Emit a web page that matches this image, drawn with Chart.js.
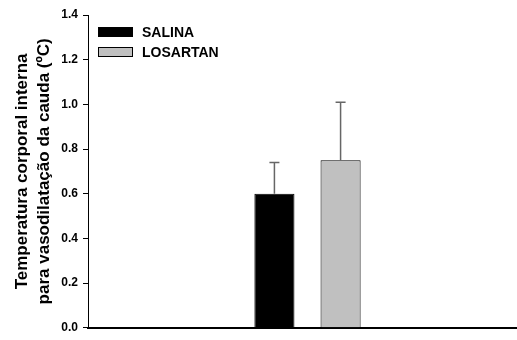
<!DOCTYPE html>
<html>
<head>
  <title>Temperatura corporal interna</title>
  <script src="https://cdn.jsdelivr.net/npm/chart.js"></script>
  <style>
    html, body { margin: 0; padding: 0; background: #fff; overflow: hidden; }
    #wrap { position: relative; width: 527px; height: 340px; }
    #legend {
      position: absolute; left: 98px; top: 22px;
      font: bold 14px "Liberation Sans", Arial, sans-serif; color: #000;
    }
    .item { display: flex; align-items: center; height: 20px; }
    .box { width: 33px; height: 8px; border: 1px solid #000; margin-right: 9px; }
  </style>
</head>
<body>
<div id="wrap">
  <canvas id="chart" width="527" height="340"></canvas>
  <div id="legend"></div>
</div>

<script>
  // dados
  const categories = [''];
  const seriesNames = ['SALINA', 'LOSARTAN'];
  const means = [0.60, 0.75];
  const errors = [0.14, 0.26];
  const yTicks = [0.0, 0.2, 0.4, 0.6, 0.8, 1.0, 1.2, 1.4];
  const colors = ['#000000', '#c0c0c0'];

  const FONT = '"Liberation Sans", Arial, sans-serif';

  // barras de erro (só para cima)
  const errorBars = {
    id: 'errorBars',
    afterDatasetsDraw(chart) {
      const ctx = chart.ctx;
      const y = chart.scales.y;
      chart.data.datasets.forEach((ds, i) => {
        const meta = chart.getDatasetMeta(i);
        meta.data.forEach((bar, j) => {
          const top = y.getPixelForValue(ds.data[j] + ds.err[j]);
          ctx.save();
          ctx.strokeStyle = '#666';
          ctx.lineWidth = 1.5;
          ctx.beginPath();
          ctx.moveTo(bar.x, bar.y);
          ctx.lineTo(bar.x, top);
          ctx.moveTo(bar.x - 5, top);
          ctx.lineTo(bar.x + 5, top);
          ctx.stroke();
          ctx.restore();
        });
      });
    }
  };

  const datasets = seriesNames.map((name, i) => ({
    label: name,
    data: [means[i]],
    err: [errors[i]],
    backgroundColor: colors[i],
    borderColor: '#000',
    borderWidth: 1
  }));

  const chart = new Chart(document.getElementById('chart'), {
    type: 'bar',
    data: { labels: categories, datasets: datasets },
    plugins: [errorBars],
    options: {
      responsive: false,
      animation: false,
      devicePixelRatio: 1,
      layout: { padding: { top: 15, bottom: 7, left: 0, right: 0 } },
      plugins: { legend: { display: false }, tooltip: { enabled: false } },
      datasets: { bar: { categoryPercentage: 0.3014, barPercentage: 0.606 } },
      scales: {
        x: {
          grid: { display: false, drawTicks: false },
          ticks: { display: false },
          border: { color: '#000', width: 2 }
        },
        y: {
          min: 0,
          max: 1.4,
          afterBuildTicks(scale) { scale.ticks = yTicks.map(v => ({ value: v })); },
          afterFit(scale) { scale.width = 88; },
          ticks: {
            color: '#000',
            padding: 5,
            font: { family: FONT, size: 12, weight: 'bold' },
            callback: v => v.toFixed(1)
          },
          grid: { drawOnChartArea: false, tickLength: 5, tickColor: '#000' },
          border: { color: '#000', width: 1 },
          title: {
            display: true,
            text: ['Temperatura corporal interna', 'para vasodilatação da cauda (ºC)'],
            color: '#000',
            font: { family: FONT, size: 17, weight: 'bold', lineHeight: 1.3 },
            padding: { top: 11, bottom: 4 }
          }
        }
      }
    }
  });

  // legenda em HTML
  const legend = document.getElementById('legend');
  seriesNames.forEach((name, i) => {
    const row = document.createElement('div');
    row.className = 'item';
    row.innerHTML = '<span class="box" style="background:' + colors[i] + '"></span>' + name;
    legend.appendChild(row);
  });
</script>
</body>
</html>
